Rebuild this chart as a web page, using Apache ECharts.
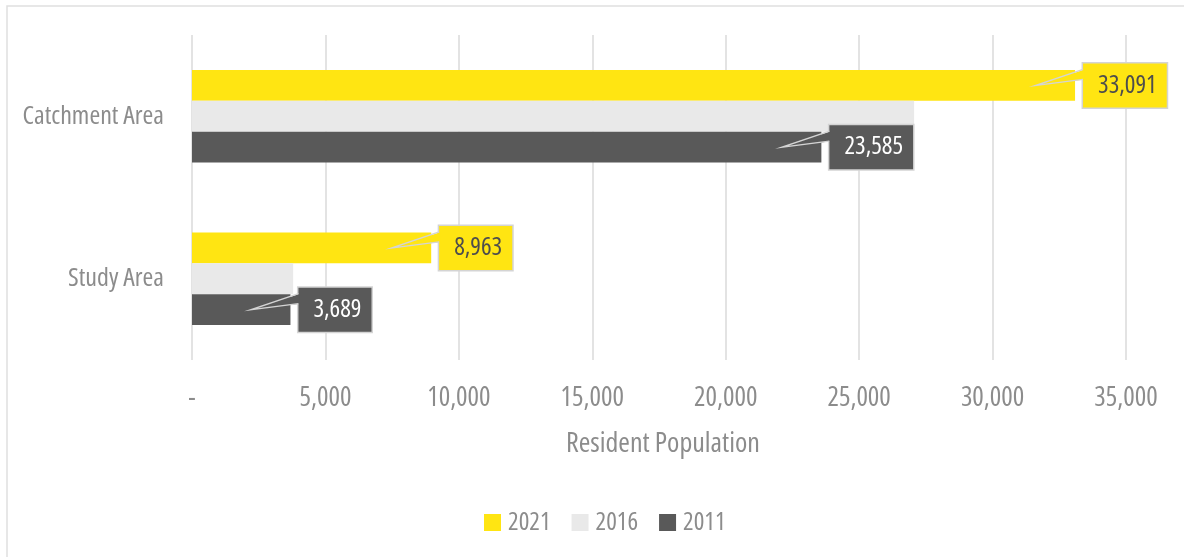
<!DOCTYPE html>
<html>
<head>
<meta charset="utf-8">
<title>Resident Population</title>
<script src="https://cdn.jsdelivr.net/npm/echarts@6/dist/echarts.min.js"></script>
<style>
  html, body { margin: 0; padding: 0; background: #ffffff; }
  #chart { width: 1184px; height: 557px; }
</style>
</head>
<body>
<div id="chart"></div>
<script>
// Categories, bottom to top along the y axis
const categories = ['Study Area', 'Catchment Area'];

// Resident population by census year
const pop2021 = [8963, 33091];
const pop2016 = [3790, 27060];
const pop2011 = [3689, 23585];

// Value axis ticks
const axisMin = 0;
const axisMax = 35000;
const axisStep = 5000;

// Condensed face of the variable Open Sans font (stretch goes in the
// weight slot so it lands before the size in the canvas font string)
const FAMILY = "'Open Sans', 'DejaVu Sans Condensed', sans-serif";
const STRETCH = 'normal condensed';
const YELLOW = '#FFE512';
const LIGHT = '#E9E9E9';
const DARK = '#595959';
const TEXT_GREY = '#8c8c8c';
const CATEGORY_GAP = 0.43;   // share of each category band left empty
const BARS_PER_CATEGORY = 3;

const fmt = v => v === 0 ? '-' : v.toLocaleString('en-US');
const txt = (size, color) => ({ fontFamily: FAMILY, fontWeight: STRETCH, fontSize: size, color: color });

// Callout label: boxed value to the right of the bar end, with a
// wedge pointing back into the bar.
function callout(slot, fill, textColor) {
  return function (params, api) {
    const value = api.value(0);
    const end = api.coord([value, api.value(1)]);
    const band = api.size([0, 1])[1];
    const barW = band * (1 - CATEGORY_GAP) / BARS_PER_CATEGORY;
    const cy = end[1] + slot * barW;
    const bx = end[0] + 8;
    const tipX = end[0] - 39;
    return {
      type: 'group',
      children: [
        {
          type: 'text',
          style: {
            x: bx, y: cy,
            text: fmt(value),
            align: 'left', verticalAlign: 'middle',
            fontFamily: FAMILY, fontWeight: STRETCH, fontSize: 25,
            fill: textColor,
            backgroundColor: fill,
            borderColor: '#d4d4d4',
            borderWidth: 1.5,
            padding: [9, 10, 9, 15],
            lineHeight: 26
          }
        },
        {
          type: 'polygon',
          shape: { points: [[tipX, cy], [bx + 1.5, cy - 16], [bx + 1.5, cy - 6]] },
          style: { fill: fill, stroke: null }
        },
        {
          type: 'polyline',
          shape: { points: [[bx, cy - 16], [tipX, cy], [bx, cy - 6]] },
          style: { stroke: '#d4d4d4', lineWidth: 1.5, fill: null }
        }
      ]
    };
  };
}

const chart = echarts.init(document.getElementById('chart'), null, { renderer: 'canvas' });

chart.setOption({
  backgroundColor: '#ffffff',
  animation: false,
  textStyle: { fontFamily: FAMILY, fontWeight: STRETCH },
  graphic: [{
    type: 'rect',
    shape: { x: 7, y: 6, width: 1400, height: 800 },
    style: { fill: null, stroke: '#e0e0e0', lineWidth: 1.5 },
    silent: true,
    z: -10
  }],
  grid: { left: 192, right: 58, top: 35, bottom: 197, containLabel: false, outerBoundsMode: 'none' },
  legend: {
    data: ['2021', '2016', '2011'],
    left: 484,
    top: 510,
    padding: 0,
    icon: 'rect',
    itemWidth: 17,
    itemHeight: 17,
    itemGap: 21,
    textStyle: Object.assign(txt(25, TEXT_GREY), { padding: [0, 0, 0, 2] })
  },
  xAxis: {
    type: 'value',
    min: axisMin,
    max: axisMax,
    interval: axisStep,
    name: 'Resident Population',
    nameLocation: 'middle',
    nameGap: 70,
    nameTextStyle: Object.assign(txt(28, TEXT_GREY), { padding: [0, 0, 0, 8] }),
    axisLine: { show: false },
    axisTick: { show: false },
    axisLabel: Object.assign(txt(27, TEXT_GREY), { formatter: fmt, margin: 25 }),
    splitLine: { show: true, lineStyle: { color: '#e3e3e3', width: 2 } }
  },
  yAxis: {
    type: 'category',
    data: categories,
    axisLine: { show: false },
    axisTick: { show: false },
    axisLabel: Object.assign(txt(26, TEXT_GREY), { margin: 28 })
  },
  series: [
    { name: '2021', type: 'bar', data: pop2021, itemStyle: { color: YELLOW },
      barGap: '0%', barCategoryGap: (CATEGORY_GAP * 100) + '%' },
    { name: '2016', type: 'bar', data: pop2016, itemStyle: { color: LIGHT } },
    { name: '2011', type: 'bar', data: pop2011, itemStyle: { color: DARK } },
    { name: '2021', type: 'custom', z: 5,
      data: pop2021.map((v, i) => [v, i]),
      encode: { x: 0, y: 1 },
      renderItem: callout(-1, YELLOW, '#4d4d4d') },
    { name: '2011', type: 'custom', z: 5,
      data: pop2011.map((v, i) => [v, i]),
      encode: { x: 0, y: 1 },
      renderItem: callout(1, DARK, '#ffffff') }
  ]
});
</script>
</body>
</html>
